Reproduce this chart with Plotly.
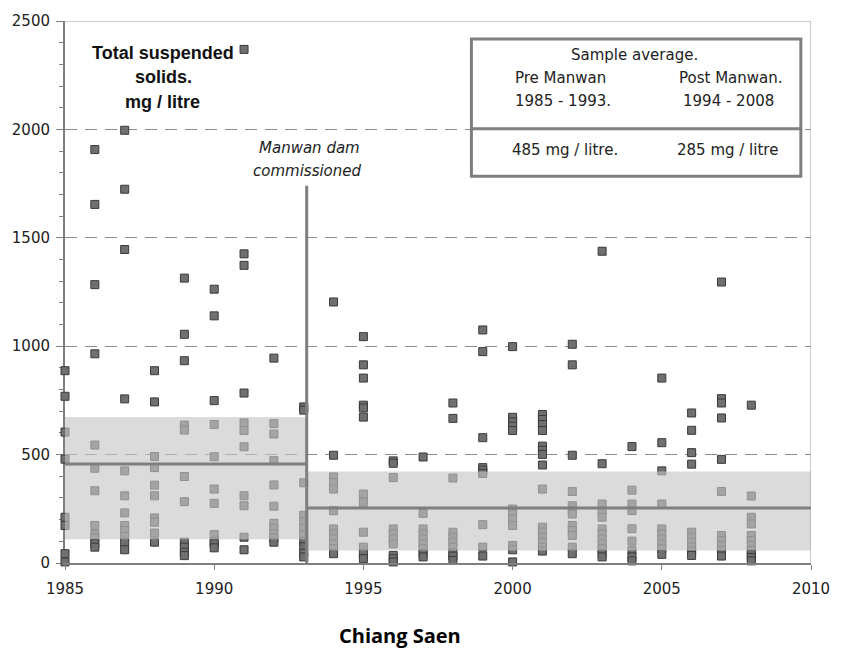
import plotly.graph_objects as go

# ---- data (mg / litre) ----
tss_1985 = [887, 769, 604, 479, 211, 173, 43, 5]
tss_1986 = [1907, 1654, 1284, 965, 544, 437, 333, 173, 131, 116, 89, 73]
tss_1987 = [1996, 1724, 1446, 757, 425, 310, 231, 173, 150, 122, 96, 61]
tss_1988 = [887, 743, 491, 440, 359, 310, 208, 188, 138, 96]
tss_1989 = [1314, 1055, 933, 636, 613, 399, 283, 96, 73, 50, 34]
tss_1990 = [1263, 1140, 749, 639, 490, 341, 275, 131, 100, 89, 70]
tss_1991 = [2369, 1426, 1373, 784, 646, 611, 536, 310, 264, 119, 61]
tss_1992 = [945, 643, 595, 472, 360, 262, 183, 160, 135, 115, 96]
tss_1993 = [720, 705, 370, 220, 190, 160, 130, 100, 75, 45, 28]
tss_1994 = [1204, 497, 397, 371, 341, 241, 157, 134, 111, 88, 66, 43]
tss_1995 = [1044, 914, 853, 728, 715, 673, 318, 280, 142, 73, 43, 20]
tss_1996 = [471, 460, 394, 157, 134, 111, 88, 35, 20, 5]
tss_1997 = [489, 229, 157, 134, 111, 88, 66, 43, 28]
tss_1998 = [738, 667, 392, 142, 119, 96, 73, 47, 32, 12]
tss_1999 = [1075, 975, 578, 440, 428, 413, 177, 73, 32]
tss_2000 = [998, 672, 651, 631, 611, 249, 226, 203, 173, 81, 61, 5]
tss_2001 = [685, 662, 639, 611, 539, 520, 501, 452, 341, 165, 142, 119, 96, 73, 55]
tss_2002 = [1009, 914, 497, 330, 264, 242, 226, 173, 150, 127, 73, 43]
tss_2003 = [1438, 458, 272, 241, 211, 157, 134, 111, 88, 66, 43, 28]
tss_2004 = [537, 336, 272, 242, 158, 101, 58, 28, 10]
tss_2005 = [853, 555, 425, 272, 157, 134, 111, 88, 66, 40]
tss_2006 = [692, 612, 509, 456, 142, 119, 96, 73, 55, 35]
tss_2007 = [1296, 758, 738, 669, 478, 330, 127, 104, 81, 58, 32]
tss_2008 = [728, 309, 211, 180, 127, 104, 81, 58, 40, 25, 10]

sample_years = list(range(1985, 2009))
sample_values = [tss_1985, tss_1986, tss_1987, tss_1988, tss_1989, tss_1990,
                 tss_1991, tss_1992, tss_1993, tss_1994, tss_1995, tss_1996,
                 tss_1997, tss_1998, tss_1999, tss_2000, tss_2001, tss_2002,
                 tss_2003, tss_2004, tss_2005, tss_2006, tss_2007, tss_2008]

dam_year = 1993.1
dam_line_top = 1740
pre_line = 457
pre_band = [110, 673]
post_line = 254
post_band = [58, 422]

x_ticks = [1985, 1990, 1995, 2000, 2005, 2010]
y_ticks = [0, 500, 1000, 1500, 2000, 2500]

# ---- flatten ----
xs, ys = [], []
for yr, vals in zip(sample_years, sample_values):
    xs += [yr] * len(vals)
    ys += vals

GRAY = "#7f7f7f"
TXT = "DejaVu Sans"

fig = go.Figure()
fig.add_trace(go.Scatter(
    x=xs, y=ys, mode="markers", cliponaxis=False, showlegend=False,
    marker=dict(symbol="square", size=8, color="#707070",
                line=dict(color="#3a3a3a", width=1)),
))

shapes = []
band_fill = "rgba(197,197,197,0.62)"
shapes.append(dict(type="rect", xref="x", yref="y", x0=1985, x1=dam_year,
                   y0=pre_band[0], y1=pre_band[1], fillcolor=band_fill,
                   line=dict(width=0), layer="above"))
shapes.append(dict(type="rect", xref="x", yref="y", x0=dam_year, x1=2010,
                   y0=post_band[0], y1=post_band[1], fillcolor=band_fill,
                   line=dict(width=0), layer="above"))
shapes.append(dict(type="line", xref="x", yref="y", x0=1985, x1=dam_year,
                   y0=pre_line, y1=pre_line, line=dict(color=GRAY, width=3), layer="above"))
shapes.append(dict(type="line", xref="x", yref="y", x0=dam_year, x1=2010,
                   y0=post_line, y1=post_line, line=dict(color=GRAY, width=3), layer="above"))
shapes.append(dict(type="line", xref="x", yref="y", x0=dam_year, x1=dam_year,
                   y0=0, y1=dam_line_top, line=dict(color=GRAY, width=3), layer="above"))
# frame top / right
shapes.append(dict(type="line", xref="x", yref="y", x0=1985, x1=2010,
                   y0=2500, y1=2500, line=dict(color="#9a9a9a", width=1), layer="above"))
shapes.append(dict(type="line", xref="x", yref="y", x0=2010, x1=2010,
                   y0=0, y1=2500, line=dict(color="#9a9a9a", width=1), layer="above"))
# summary box
shapes.append(dict(type="rect", xref="x", yref="y", x0=1998.62, x1=2009.66,
                   y0=1784, y1=2417, fillcolor="white",
                   line=dict(color=GRAY, width=3), layer="above"))
shapes.append(dict(type="line", xref="x", yref="y", x0=1998.62, x1=2009.66,
                   y0=2003, y1=2003, line=dict(color=GRAY, width=3), layer="above"))

ann = []
def txt(x, y, s, size=15, bold=False, italic=False, family=TXT, color="#222222", xref="x", yref="y"):
    if bold:
        s = "<b>" + s + "</b>"
    if italic:
        s = "<i>" + s + "</i>"
    ann.append(dict(x=x, y=y, xref=xref, yref=yref, text=s, showarrow=False,
                    xanchor="center", yanchor="middle",
                    font=dict(family=family, size=size, color=color)))

txt(1988.28, 2353, "Total suspended", size=18, bold=True, family="Liberation Sans", color="#111111")
txt(1988.30, 2243, "solids.", size=18, bold=True, family="Liberation Sans", color="#111111")
txt(1988.28, 2128, "mg / litre", size=18, bold=True, family="Liberation Sans", color="#111111")

txt(1993.21, 1912, "Manwan dam", size=15, italic=True)
txt(1993.11, 1807, "commissioned", size=15, italic=True)

txt(2004.07, 2345, "Sample average.")
txt(2001.62, 2238, "Pre Manwan")
txt(2007.32, 2238, "Post Manwan.")
txt(2001.69, 2132, "1985 - 1993.")
txt(2007.22, 2132, "1994 - 2008")
txt(2001.75, 1903, "485 mg / litre.")
txt(2007.19, 1903, "285 mg / litre")

txt(0.449, -0.133, "Chiang Saen", size=20, bold=True, family="Open Sans",
    color="#000000", xref="paper", yref="paper")

fig.update_layout(
    width=842, height=652,
    margin=dict(l=62, r=25, t=18, b=89),
    paper_bgcolor="white", plot_bgcolor="white",
    shapes=shapes, annotations=ann,
    showlegend=False,
    xaxis=dict(range=[1985, 2010], tickvals=x_ticks, ticktext=[str(v) for v in x_ticks],
               showgrid=False, zeroline=False, showline=True, linecolor=GRAY, linewidth=2,
               ticks="outside", ticklen=5, tickcolor=GRAY, tickwidth=1,
               tickfont=dict(family=TXT, size=15, color="#222222"),
               ticklabelstandoff=6),
    yaxis=dict(range=[0, 2500], tickvals=y_ticks, ticktext=[str(v) for v in y_ticks],
               showgrid=True, gridcolor="#8c8c8c", gridwidth=1, griddash="12px,8px",
               zeroline=False, showline=True, linecolor=GRAY, linewidth=2,
               ticks="outside", ticklen=7, tickcolor=GRAY, tickwidth=1,
               minor=dict(dtick=100, ticks="outside", ticklen=4, tickcolor=GRAY, showgrid=False),
               tickfont=dict(family=TXT, size=15, color="#222222"),
               ticklabelstandoff=3, layer="below traces"),
)

fig.write_html("out.html")
